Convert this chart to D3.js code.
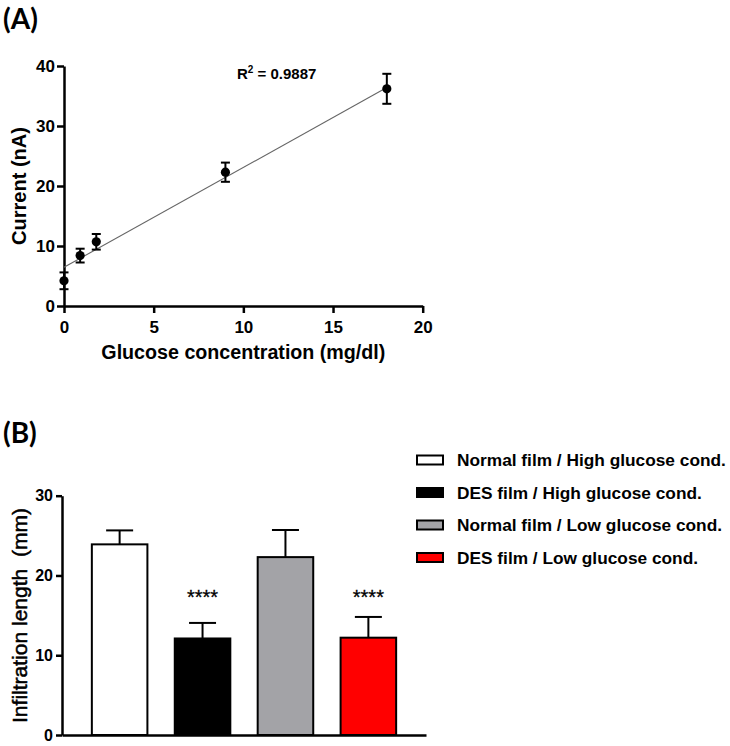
<!DOCTYPE html>
<html>
<head>
<meta charset="utf-8">
<script src="https://cdn.jsdelivr.net/npm/d3@7"></script>
<style>
  html, body { margin: 0; padding: 0; background: #fff; }
  svg { display: block; }
  text { font-family: "Liberation Sans", Arial, sans-serif; }
</style>
</head>
<body>
<svg id="chart" width="730" height="746"></svg>
<script>
// ---------- Panel A data ----------
const concX = [0, 0.9, 1.8, 9, 18];
const currentY = [4.2, 8.4, 10.7, 22.3, 36.2];
const currentErr = [1.4, 1.15, 1.3, 1.6, 2.5];
const fitX = [0, 18];
const fitY = [6.45, 36.4];
const xTicksA = [0, 5, 10, 15, 20];
const yTicksA = [0, 10, 20, 30, 40];
const r2Label = "0.9887";

// ---------- Panel B data ----------
const groupsB = ["Normal film / High glucose cond.", "DES film / High glucose cond.",
                 "Normal film / Low glucose cond.", "DES film / Low glucose cond."];
const lengthB = [23.9, 12.1, 22.3, 12.2];
const lengthErrB = [1.75, 1.95, 3.4, 2.6];
const sigB = ["", "****", "", "****"];
const colorsB = ["#ffffff", "#000000", "#a3a3a7", "#ff0000"];
const yTicksB = [0, 10, 20, 30];

const svg = d3.select("#chart");

// ================= Panel A =================
const gA = svg.append("g");
gA.append("text").attr("x", 3).attr("y", 29)
  .style("font-family", "Lato, 'Open Sans', sans-serif")
  .attr("font-weight", "bold").attr("font-size", 28).text("(A)");

const xA = d3.scaleLinear().domain([0, 20]).range([64, 422.7]);
const yA = d3.scaleLinear().domain([0, 40]).range([306, 66]);

const axA_x = gA.append("g").attr("transform", `translate(0,${yA(0)})`)
  .call(d3.axisBottom(xA).tickValues(xTicksA).tickSize(7).tickSizeOuter(0).tickPadding(8));
const axA_y = gA.append("g").attr("transform", `translate(${xA(0)},0)`)
  .call(d3.axisLeft(yA).tickValues(yTicksA).tickSize(7).tickSizeOuter(0).tickPadding(2));
[axA_x, axA_y].forEach(a => {
  a.selectAll("path, line").attr("stroke", "#000").attr("stroke-width", 2.5);
  a.selectAll("text").attr("font-size", 17).attr("font-weight", "bold").attr("fill", "#000")
    .style("font-family", "'Liberation Sans', Arial, sans-serif");
});

// axis titles
gA.append("text")
  .attr("x", (xA(0) + xA(20)) / 2).attr("y", 359)
  .attr("text-anchor", "middle").attr("font-size", 20).attr("font-weight", "bold")
  .attr("textLength", 284).attr("lengthAdjust", "spacingAndGlyphs")
  .text("Glucose concentration (mg/dl)");
gA.append("text")
  .attr("transform", `translate(26,${(yA(0) + yA(40)) / 2}) rotate(-90)`)
  .attr("text-anchor", "middle").attr("font-size", 20).attr("font-weight", "bold")
  .text("Current (nA)");

// fit line
gA.append("line")
  .attr("x1", xA(fitX[0])).attr("y1", yA(fitY[0]))
  .attr("x2", xA(fitX[1])).attr("y2", yA(fitY[1]))
  .attr("stroke", "#666").attr("stroke-width", 1.1);

// error bars and points
const ptsA = concX.map((x, i) => ({ x, y: currentY[i], e: currentErr[i] }));
const eb = gA.append("g").attr("stroke", "#000").attr("stroke-width", 2);
ptsA.forEach(p => {
  const cx = xA(p.x);
  eb.append("line").attr("x1", cx).attr("x2", cx).attr("y1", yA(p.y - p.e)).attr("y2", yA(p.y + p.e));
  eb.append("line").attr("x1", cx - 4.5).attr("x2", cx + 4.5).attr("y1", yA(p.y + p.e)).attr("y2", yA(p.y + p.e));
  eb.append("line").attr("x1", cx - 4.5).attr("x2", cx + 4.5).attr("y1", yA(p.y - p.e)).attr("y2", yA(p.y - p.e));
});
gA.selectAll("circle.pt").data(ptsA).join("circle")
  .attr("class", "pt").attr("cx", d => xA(d.x)).attr("cy", d => yA(d.y))
  .attr("r", 4.6).attr("fill", "#000");

// R^2 label
const r2 = gA.append("text").attr("x", 237).attr("y", 79)
  .attr("font-size", 15).attr("font-weight", "bold");
r2.append("tspan").text("R");
r2.append("tspan").attr("font-size", 10).attr("dy", -6).text("2");
r2.append("tspan").attr("dy", 6).text(" = " + r2Label);

// ================= Panel B =================
const gB = svg.append("g");
gB.append("text").attr("x", 3).attr("y", 443)
  .style("font-family", "Lato, 'Open Sans', sans-serif")
  .attr("font-weight", "bold").attr("font-size", 28).text("(B)");

const xB = d3.scaleBand().domain(groupsB).range([62, 426]).paddingInner(0.33).paddingOuter(0.36);
const yB = d3.scaleLinear().domain([0, 30]).range([735, 495.7]);

// bars
const barsData = groupsB.map((g, i) => ({ g, v: lengthB[i], e: lengthErrB[i], c: colorsB[i], s: sigB[i] }));
const barG = gB.append("g");
barsData.forEach(d => {
  const cx = xB(d.g) + xB.bandwidth() / 2;
  barG.append("line").attr("x1", cx).attr("x2", cx)
    .attr("y1", yB(d.v)).attr("y2", yB(d.v + d.e)).attr("stroke", "#000").attr("stroke-width", 2);
  barG.append("line").attr("x1", cx - 13.5).attr("x2", cx + 13.5)
    .attr("y1", yB(d.v + d.e)).attr("y2", yB(d.v + d.e)).attr("stroke", "#000").attr("stroke-width", 2);
});
barG.selectAll("rect").data(barsData).join("rect")
  .attr("x", d => xB(d.g)).attr("y", d => yB(d.v))
  .attr("width", xB.bandwidth()).attr("height", d => yB(0) - yB(d.v))
  .attr("fill", d => d.c).attr("stroke", "#000").attr("stroke-width", 2);

// significance
gB.selectAll("text.sig").data(barsData.filter(d => d.s)).join("text")
  .attr("class", "sig")
  .attr("x", d => xB(d.g) + xB.bandwidth() / 2).attr("y", 604)
  .attr("text-anchor", "middle").attr("font-size", 20).attr("fill", "#000")
  .attr("stroke", "#000").attr("stroke-width", 0.3)
  .text(d => d.s);

// axes
const axB_x = gB.append("g").attr("transform", `translate(0,${yB(0)})`)
  .call(d3.axisBottom(xB).tickValues([]).tickSizeOuter(0));
const axB_y = gB.append("g").attr("transform", `translate(62,0)`)
  .call(d3.axisLeft(yB).tickValues(yTicksB).tickSize(6).tickSizeOuter(0).tickPadding(3));
[axB_x, axB_y].forEach(a => {
  a.selectAll("path, line").attr("stroke", "#000").attr("stroke-width", 2.5);
  a.selectAll("text").attr("font-size", 16).attr("font-weight", "bold").attr("fill", "#000")
    .style("font-family", "'Liberation Sans', Arial, sans-serif");
});
gB.append("text")
  .attr("transform", `translate(26.5,615.5) rotate(-90)`)
  .attr("text-anchor", "middle").attr("font-size", 21)
  .attr("stroke", "#000").attr("stroke-width", 0.5)
  .attr("textLength", 215).attr("lengthAdjust", "spacingAndGlyphs")
  .style("white-space", "pre")
  .text("Infiltration length  (mm)");

// legend
const leg = gB.append("g");
barsData.forEach((d, i) => {
  const cy = 460 + i * 32.5;
  leg.append("rect").attr("x", 417).attr("y", cy - 4.5).attr("width", 26).attr("height", 9)
    .attr("fill", d.c).attr("stroke", "#000").attr("stroke-width", 2);
  leg.append("text").attr("x", 457).attr("y", cy + 6)
    .attr("font-size", 17.3).attr("font-weight", "bold").text(d.g);
});
</script>
</body>
</html>
